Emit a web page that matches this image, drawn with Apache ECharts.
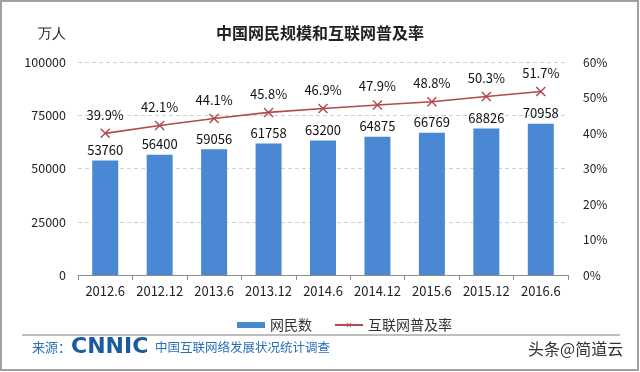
<!DOCTYPE html>
<html><head><meta charset="utf-8">
<script src="https://cdn.jsdelivr.net/npm/echarts@6/dist/echarts.min.js"></script>
<style>html,body{margin:0;padding:0;background:#fff}#c{width:640px;height:372px}</style>
</head><body><div id="c"></div>
<script>
const categories = ['2012.6','2012.12','2013.6','2013.12','2014.6','2014.12','2015.6','2015.12','2016.6'];
const netizens = [53760, 56400, 59056, 61758, 63200, 64875, 66769, 68826, 70958];
const penetration = [39.9, 42.1, 44.1, 45.8, 46.9, 47.9, 48.8, 50.3, 51.7];
const leftTicks = [0, 25000, 50000, 75000, 100000];
const rightTicks = [0, 10, 20, 30, 40, 50, 60];

const FONT = '"Noto Sans CJK SC", "Liberation Sans", sans-serif';
const chart = echarts.init(document.getElementById('c'));
chart.setOption({
  backgroundColor: '#fff',
  animation: false,
  textStyle: { fontFamily: FONT },
  title: {
    text: '中国网民规模和互联网普及率', left: 'center', top: 20,
    textStyle: { fontSize: 16, fontWeight: 'bold', color: '#222', fontFamily: FONT }
  },
  legend: {
    left: 232, top: 313, itemWidth: 28, itemHeight: 6, itemGap: 22,
    textStyle: { fontSize: 14, color: '#333', fontFamily: FONT },
    data: [
      { name: '网民数', icon: 'rect' },
      { name: '互联网普及率' }
    ]
  },
  grid: { left: 78, right: 72, top: 62, bottom: 97 },
  xAxis: {
    type: 'category', data: categories,
    axisLine: { lineStyle: { color: '#8c8c8c', width: 1 } },
    axisTick: { show: true, length: 5, lineStyle: { color: '#8c8c8c' } },
    axisLabel: { interval: 0, fontSize: 13, color: '#222', margin: 10, fontFamily: FONT }
  },
  yAxis: [
    {
      type: 'value', min: leftTicks[0], max: leftTicks[leftTicks.length - 1], interval: 25000,
      axisLine: { show: false }, axisTick: { show: false },
      axisLabel: { fontSize: 12.5, color: '#222', margin: 12, formatter: v => String(v) },
      splitLine: { lineStyle: { type: [4, 3], color: '#d0d0d0' } }
    },
    {
      type: 'value', min: rightTicks[0], max: rightTicks[rightTicks.length - 1], interval: 10,
      axisLine: { show: false }, axisTick: { show: false },
      axisLabel: { fontSize: 12, color: '#222', margin: 15, formatter: v => v + '%' },
      splitLine: { show: false }
    }
  ],
  series: [
    {
      name: '网民数', type: 'bar', data: netizens, barWidth: 26,
      itemStyle: { color: '#4a88d4' },
      label: { show: true, position: 'top', distance: 4, fontSize: 13, color: '#111' }
    },
    {
      name: '互联网普及率', type: 'line', yAxisIndex: 1, data: penetration,
      lineStyle: { color: '#b04a4d', width: 1.6 },
      itemStyle: { color: '#b04a4d' },
      symbol: 'path://M0,1L1,0L5,4L9,0L10,1L6,5L10,9L9,10L5,6L1,10L0,9L4,5Z',
      symbolSize: 10,
      label: { show: true, position: 'top', distance: 7, fontSize: 13, color: '#111', formatter: p => p.value.toFixed(1) + '%' }
    }
  ],
  graphic: [
    { type: 'rect', silent: true, shape: { x: 1, y: 1, width: 637, height: 369 }, style: { fill: 'none', stroke: '#a0a0a0', lineWidth: 2 } },
    { type: 'text', left: 38, top: 27, style: { text: '万人', fontSize: 14, fill: '#222', font: '14px ' + FONT } },
    { type: 'line', silent: true, shape: { x1: 22, y1: 335, x2: 620, y2: 335 }, style: { stroke: '#a8a8a8', lineWidth: 1.5 } },
    { type: 'text', left: 32, top: 341, style: { text: '来源：', fill: '#2a6fb8', font: '13px ' + FONT } },
    { type: 'text', left: 71, top: 336, style: { text: 'CNNIC', fill: '#1a5c9e', font: 'bold 22px "DejaVu Sans", sans-serif' } },
    { type: 'text', left: 155, top: 341, style: { text: '中国互联网络发展状况统计调查', fill: '#2a6fb8', font: '12.5px ' + FONT } },
    { type: 'text', left: 528, top: 341, style: { text: '头条@简道云', fill: '#333', font: '16px ' + FONT } }
  ]
});
</script></body></html>
